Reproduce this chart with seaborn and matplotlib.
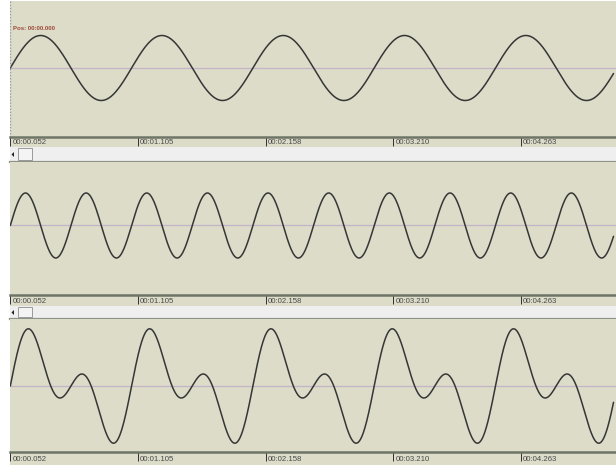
import numpy as np
import pandas as pd
import matplotlib
matplotlib.use("Agg")
import matplotlib.pyplot as plt
import matplotlib.transforms as mtransforms
from matplotlib.patches import Rectangle, Polygon
import seaborn as sns

# ── signal data ───────────────────────────────
TONE_FREQS_HZ  = [1.0, 2.0]          # track 1 and track 2 tones
TONE_AMPS      = [1.0, 1.0]
PANEL_TONES    = [[0], [1], [0, 1]]  # track 3 = mix of both tones
VIEW_START_S   = 0.052
WAVE_END_S     = 5.025
TICK_TIMES     = [0.052, 1.105, 2.158, 3.210, 4.263]
TICK_LABELS    = ["00:00.052", "00:01.105", "00:02.158", "00:03.210", "00:04.263"]
POS_LABEL      = "Pos: 00:00.000"

# ── look ───────────────────────────────────────────────────────────────────
W, H       = 616, 465
BG         = "#dcdcc9"
WAVE_C     = "#363636"
MID_C      = "#c4b4c6"
AXIS_C     = "#6f7566"
PINK_C     = "#e2c9c6"
SCROLL_C   = "#efefef"
LABEL_C    = "#4a4a4a"
PX_PER_S   = 121.3
X0_PX      = 10.3                     # pixel of VIEW_START_S
AMP_PX     = 32.5

# panel pixel layout: wave top, axis line, midline, ruler bottom, scrollbar bottom
PANELS = [
    dict(top=1,   axis=137, mid=68,    ruler=147, scroll=162),
    dict(top=162, axis=295, mid=225.5, ruler=306, scroll=319),
    dict(top=319, axis=452, mid=386,   ruler=465, scroll=None),
]

sns.set_style("white")
plt.rcParams["font.family"] = ["Liberation Sans Narrow", "Liberation Sans", "DejaVu Sans"]


def rect(x0, y0, x1, y1):
    return [x0 / W, 1 - y1 / H, (x1 - x0) / W, (y1 - y0) / H]


t_left  = VIEW_START_S - (X0_PX - 10) / PX_PER_S
t_right = VIEW_START_S + (W - X0_PX) / PX_PER_S

t = np.linspace(VIEW_START_S, WAVE_END_S, 3000)
frames = []
for i, tones in enumerate(PANEL_TONES):
    y = np.zeros_like(t)
    for k in tones:
        y += TONE_AMPS[k] * np.sin(2 * np.pi * TONE_FREQS_HZ[k] * (t - VIEW_START_S))
    frames.append(pd.DataFrame({"time": t, "amp": y, "panel": i}))
df = pd.concat(frames, ignore_index=True)

fig = plt.figure(figsize=(W / 100, H / 100), dpi=100, facecolor="white")

for i, p in enumerate(PANELS):
    # ── waveform area ──
    ax = fig.add_axes(rect(10, p["top"], W, p["axis"]))
    ax.set_facecolor(BG)
    sub = df[df["panel"] == i]
    ax.axhline(0, color=MID_C, lw=0.9, zorder=1)
    sns.lineplot(data=sub, x="time", y="amp", ax=ax, color=WAVE_C,
                 lw=1.1, zorder=3, legend=False)
    ax.set_xlim(t_left, t_right)
    ax.set_ylim(-(p["axis"] - p["mid"]) / AMP_PX, (p["mid"] - p["top"]) / AMP_PX)
    ax.set_xticks([]); ax.set_yticks([])
    ax.set_xlabel(""); ax.set_ylabel("")
    for s in ax.spines.values():
        s.set_visible(False)
    if i == 0:
        ax.axvline(t_left, color="#9a9aa0", lw=1.0, ls=(0, (1, 1.2)), zorder=4)
        ax.text(0.005, (p["axis"] - 29) / (p["axis"] - p["top"]),
                POS_LABEL, transform=ax.transAxes, fontsize=4.3, color="#a0483a",
                fontweight="bold", va="center", ha="left")

    # ── time ruler ──
    rx = fig.add_axes(rect(10, p["axis"], W, p["ruler"]))
    rx.set_facecolor(BG)
    rx.set_xlim(t_left, t_right)
    rx.set_ylim(0, 1)
    rx.set_yticks([])
    rx.xaxis.tick_top()
    rx.set_xticks(TICK_TIMES)
    rx.set_xticklabels([])
    rx.tick_params(axis="x", direction="in", length=6.5, width=0.7, color="#303030", pad=0)
    for s in ["left", "right"]:
        rx.spines[s].set_visible(False)
    rx.spines["top"].set_color(AXIS_C)
    rx.spines["top"].set_linewidth(1.8)
    rx.spines["bottom"].set_color(PINK_C)
    rx.spines["bottom"].set_linewidth(0.8 if p["scroll"] else 0)
    off = mtransforms.offset_copy(rx.transData, fig=fig, x=1.5, y=0, units="points")
    for tt, lab in zip(TICK_TIMES, TICK_LABELS):
        rx.text(tt, 0.45, lab, transform=mtransforms.blended_transform_factory(off, rx.transAxes),
                fontsize=5.6, color=LABEL_C, va="center", ha="left")

    # ── scrollbar ──
    if p["scroll"]:
        sx = fig.add_axes(rect(10, p["ruler"], W, p["scroll"]))
        sx.set_facecolor(SCROLL_C)
        sx.set_xlim(10, W)
        sx.set_ylim(p["scroll"], p["ruler"])
        sx.set_xticks([]); sx.set_yticks([])
        for s in ["left", "right", "top"]:
            sx.spines[s].set_visible(False)
        sx.spines["bottom"].set_color("#8f9288")
        sx.spines["bottom"].set_linewidth(1.6)
        cy = (p["ruler"] + p["scroll"]) / 2
        sx.add_patch(Polygon([[11.5, cy], [14, cy - 2.5], [14, cy + 2.5]],
                             closed=True, color="#202020", lw=0))
        sx.add_patch(Rectangle((18, p["ruler"] + 1), 13.5, p["scroll"] - p["ruler"] - 3,
                               facecolor="#f4f4f4", edgecolor="#9a9a9a", lw=0.7))

fig.savefig("out.png", dpi=100, facecolor=fig.get_facecolor())
plt.close(fig)
